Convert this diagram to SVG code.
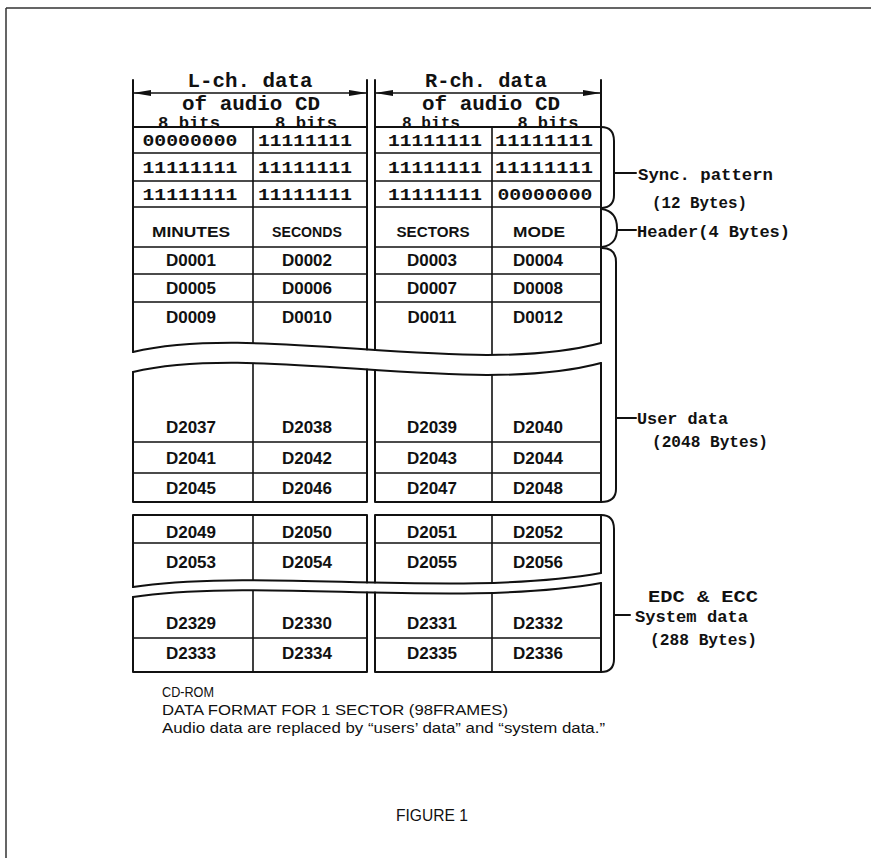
<svg xmlns="http://www.w3.org/2000/svg" width="871" height="858" viewBox="0 0 871 858">
<style>
.ln{fill:none;stroke:#111;stroke-width:2;stroke-linejoin:round;stroke-linecap:round}
.in{fill:none;stroke:#111;stroke-width:1.6}
.frame{fill:none;stroke:#333;stroke-width:1.5}
.hd{font-family:"Liberation Mono",monospace;font-weight:bold;font-size:20px;fill:#111;text-anchor:middle}
.bits{font-family:"Liberation Mono",monospace;font-weight:bold;font-size:16px;fill:#111;text-anchor:middle}
.bin{font-family:"Liberation Mono",monospace;font-weight:bold;font-size:17px;fill:#111;text-anchor:middle}
.hr{font-family:"Liberation Sans",Arial,sans-serif;font-weight:bold;font-size:14px;fill:#111;text-anchor:middle}
.c{font-family:"Liberation Sans",Arial,sans-serif;font-weight:bold;font-size:17px;fill:#111;text-anchor:middle}
.lb{font-family:"Liberation Mono",monospace;font-weight:bold;font-size:17px;fill:#111}
.cap{font-family:"Liberation Sans",Arial,sans-serif;font-size:15px;fill:#111}
.fig{font-family:"Liberation Sans",Arial,sans-serif;font-size:17px;fill:#111;text-anchor:middle}
</style>
<defs>
<marker id="ah" viewBox="0 0 18 6" refX="18" refY="3" markerWidth="18" markerHeight="6" markerUnits="userSpaceOnUse" orient="auto-start-reverse">
<path d="M0,0 L18,3 L0,6 z" fill="#111"/>
</marker>
</defs>
<rect width="871" height="858" fill="#fff"/>
<path class="frame" d="M6,8 H871 M6,8 V858"/>

<g id="header-labels">
<text class="hd" x="250" y="87" textLength="125" lengthAdjust="spacingAndGlyphs">L-ch. data</text>
<text class="hd" x="486" y="87" textLength="122" lengthAdjust="spacingAndGlyphs">R-ch. data</text>
<line class="in" x1="133" y1="93" x2="367" y2="93" marker-start="url(#ah)" marker-end="url(#ah)"/>
<line class="in" x1="375" y1="93" x2="601" y2="93" marker-start="url(#ah)" marker-end="url(#ah)"/>
<text class="hd" x="251" y="110" textLength="138" lengthAdjust="spacingAndGlyphs">of audio CD</text>
<text class="hd" x="491" y="110" textLength="138" lengthAdjust="spacingAndGlyphs">of audio CD</text>
<text class="bits" x="189" y="128" textLength="62" lengthAdjust="spacingAndGlyphs">8 bits</text>
<text class="bits" x="306" y="128" textLength="62" lengthAdjust="spacingAndGlyphs">8 bits</text>
<text class="bits" x="431" y="128" textLength="58" lengthAdjust="spacingAndGlyphs">8 bits</text>
<text class="bits" x="548" y="128" textLength="61" lengthAdjust="spacingAndGlyphs">8 bits</text>
</g>

<g id="block1">
<rect x="133" y="127" width="234" height="6" fill="#fff"/>
<rect x="375" y="127" width="226" height="6" fill="#fff"/>
<path class="ln" d="M133,80 V352 M367,80 V349.4 M375,80 V350 M601,80 V343"/>
<path class="ln" d="M133,352 C260,322 470,378 601,343"/>
<path class="ln" d="M133,127 H367 M375,127 H601"/>
<path class="in" d="M133,153 H367 M375,153 H601 M133,181 H367 M375,181 H601 M133,207 H367 M375,207 H601 M133,247 H367 M375,247 H601 M133,274 H367 M375,274 H601 M133,302 H367 M375,302 H601"/>
<path class="in" d="M253,127 V343.5 M492,127 V355"/>
<text class="bin" x="190" y="146" textLength="95" lengthAdjust="spacingAndGlyphs">00000000</text>
<text class="bin" x="305" y="146" textLength="94" lengthAdjust="spacingAndGlyphs">11111111</text>
<text class="bin" x="435" y="146" textLength="94" lengthAdjust="spacingAndGlyphs">11111111</text>
<text class="bin" x="544" y="146" textLength="98" lengthAdjust="spacingAndGlyphs">11111111</text>
<text class="bin" x="190" y="173" textLength="95" lengthAdjust="spacingAndGlyphs">11111111</text>
<text class="bin" x="305" y="173" textLength="94" lengthAdjust="spacingAndGlyphs">11111111</text>
<text class="bin" x="435" y="173" textLength="94" lengthAdjust="spacingAndGlyphs">11111111</text>
<text class="bin" x="544" y="173" textLength="98" lengthAdjust="spacingAndGlyphs">11111111</text>
<text class="bin" x="190" y="200" textLength="95" lengthAdjust="spacingAndGlyphs">11111111</text>
<text class="bin" x="305" y="200" textLength="94" lengthAdjust="spacingAndGlyphs">11111111</text>
<text class="bin" x="435" y="200" textLength="94" lengthAdjust="spacingAndGlyphs">11111111</text>
<text class="bin" x="545" y="200" textLength="95" lengthAdjust="spacingAndGlyphs">00000000</text>
<text class="hr" x="191" y="237" textLength="78" lengthAdjust="spacingAndGlyphs">MINUTES</text>
<text class="hr" x="307" y="237" textLength="70" lengthAdjust="spacingAndGlyphs">SECONDS</text>
<text class="hr" x="433" y="237" textLength="73" lengthAdjust="spacingAndGlyphs">SECTORS</text>
<text class="hr" x="539" y="237" textLength="52" lengthAdjust="spacingAndGlyphs">MODE</text>
<text class="c" x="191" y="266">D0001</text>
<text class="c" x="307" y="266">D0002</text>
<text class="c" x="432" y="266">D0003</text>
<text class="c" x="538" y="266">D0004</text>
<text class="c" x="191" y="294">D0005</text>
<text class="c" x="307" y="294">D0006</text>
<text class="c" x="432" y="294">D0007</text>
<text class="c" x="538" y="294">D0008</text>
<text class="c" x="191" y="323">D0009</text>
<text class="c" x="307" y="323">D0010</text>
<text class="c" x="432" y="323">D0011</text>
<text class="c" x="538" y="323">D0012</text>
</g>

<g id="block2">
<path class="ln" d="M133,372 C260,342 470,398 601,363"/>
<path class="ln" d="M133,372 V502 M367,369.4 V502 M375,370 V502 M601,363 V502 M133,502 H367 M375,502 H601"/>
<path class="in" d="M253,363.5 V502 M492,375 V502 M133,442 H367 M375,442 H601 M133,473 H367 M375,473 H601"/>
<text class="c" x="191" y="433">D2037</text>
<text class="c" x="307" y="433">D2038</text>
<text class="c" x="432" y="433">D2039</text>
<text class="c" x="538" y="433">D2040</text>
<text class="c" x="191" y="464">D2041</text>
<text class="c" x="307" y="464">D2042</text>
<text class="c" x="432" y="464">D2043</text>
<text class="c" x="538" y="464">D2044</text>
<text class="c" x="191" y="494">D2045</text>
<text class="c" x="307" y="494">D2046</text>
<text class="c" x="432" y="494">D2047</text>
<text class="c" x="538" y="494">D2048</text>
</g>

<g id="block3">
<path class="ln" d="M133,515 H367 M375,515 H601 M133,515 V587 M367,515 V582.4 M375,515 V582.5 M601,515 V573"/>
<path class="ln" d="M133,587 C250,568 460,598 601,573"/>
<path class="in" d="M253,515 V580.3 M492,515 V583 M133,543 H367 M375,543 H601"/>
<text class="c" x="191" y="538">D2049</text>
<text class="c" x="307" y="538">D2050</text>
<text class="c" x="432" y="538">D2051</text>
<text class="c" x="538" y="538">D2052</text>
<text class="c" x="191" y="568">D2053</text>
<text class="c" x="307" y="568">D2054</text>
<text class="c" x="432" y="568">D2055</text>
<text class="c" x="538" y="568">D2056</text>
</g>

<g id="block4">
<path class="ln" d="M133,597 C250,578 460,608 601,583"/>
<path class="ln" d="M133,597 V672 M367,592.4 V672 M375,592.5 V672 M601,583 V672 M133,672 H367 M375,672 H601"/>
<path class="in" d="M253,590.3 V672 M492,593 V672 M133,638 H367 M375,638 H601"/>
<text class="c" x="191" y="629">D2329</text>
<text class="c" x="307" y="629">D2330</text>
<text class="c" x="432" y="629">D2331</text>
<text class="c" x="538" y="629">D2332</text>
<text class="c" x="191" y="659">D2333</text>
<text class="c" x="307" y="659">D2334</text>
<text class="c" x="432" y="659">D2335</text>
<text class="c" x="538" y="659">D2336</text>
</g>

<g id="connectors">
<path class="ln" d="M601,127 Q614,127 614,141 V195 Q614,207 602,208"/>
<path class="ln" d="M614,173 H636"/>
<path class="ln" d="M602,209 C614,211 617,220 617,228 C617,238 614,245 602,247"/>
<path class="ln" d="M617,230 H636"/>
<path class="ln" d="M602,248 Q616,248 616,262 V489 Q616,502 601,502"/>
<path class="ln" d="M616,418 H636"/>
<path class="ln" d="M601,515 Q614,515 614,529 V659 Q614,672 601,672"/>
<path class="ln" d="M614,615 H630"/>
</g>

<g id="label-sync">
<text class="lb" x="638" y="180" textLength="135" lengthAdjust="spacingAndGlyphs">Sync. pattern</text>
<text class="lb" x="652" y="208" textLength="95" lengthAdjust="spacingAndGlyphs">(12 Bytes)</text>
</g>
<g id="label-header">
<text class="lb" x="637" y="237" textLength="153" lengthAdjust="spacingAndGlyphs">Header(4 Bytes)</text>
</g>
<g id="label-user">
<text class="lb" x="637" y="424" textLength="91" lengthAdjust="spacingAndGlyphs">User data</text>
<text class="lb" x="652" y="447" textLength="116" lengthAdjust="spacingAndGlyphs">(2048 Bytes)</text>
</g>
<g id="label-system">
<text class="lb" x="648" y="602" textLength="110" lengthAdjust="spacingAndGlyphs">EDC &amp; ECC</text>
<text class="lb" x="635" y="622" textLength="113" lengthAdjust="spacingAndGlyphs">System data</text>
<text class="lb" x="650" y="645" textLength="107" lengthAdjust="spacingAndGlyphs">(288 Bytes)</text>
</g>

<g id="caption">
<text class="cap" x="162" y="697" textLength="52" lengthAdjust="spacingAndGlyphs">CD-ROM</text>
<text class="cap" x="162" y="715" textLength="346" lengthAdjust="spacingAndGlyphs">DATA FORMAT FOR 1 SECTOR (98FRAMES)</text>
<text class="cap" x="162" y="733" textLength="443" lengthAdjust="spacingAndGlyphs">Audio data are replaced by “users’ data” and “system data.”</text>
<text class="fig" x="432" y="821" textLength="72" lengthAdjust="spacingAndGlyphs">FIGURE 1</text>
</g>
</svg>
